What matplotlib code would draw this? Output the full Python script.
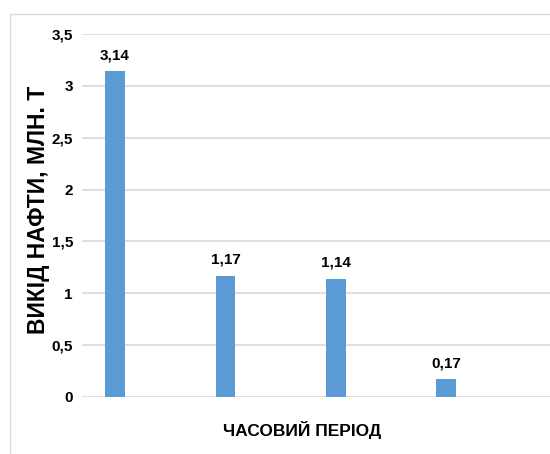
import matplotlib

matplotlib.use("Agg")
import matplotlib.pyplot as plt
from matplotlib.lines import Line2D

# дані
periods = ["1", "2", "3", "4"]
values = [3.14, 1.17, 1.14, 0.17]
value_labels = ["3,14", "1,17", "1,14", "0,17"]
y_ticks = [0, 0.5, 1, 1.5, 2, 2.5, 3, 3.5]
y_tick_labels = ["0", "0,5", "1", "1,5", "2", "2,5", "3", "3,5"]

plt.rcParams["font.family"] = ["Liberation Sans", "DejaVu Sans"]

W, H = 550, 454
fig = plt.figure(figsize=(W / 100, H / 100), dpi=100)
ax = fig.add_axes([82 / W, 57 / H, 1 - 82 / W, 363 / H])

x = list(range(len(values)))
bar_color = "#5B9BD5"
ax.bar(x, values, width=0.18, color=bar_color, zorder=3)
for xi, v, lab in zip(x, values, value_labels):
    ax.annotate(lab, (xi, v), xytext=(0, 11.5), textcoords="offset points",
                ha="center", va="center", fontsize=11, fontweight="bold")

ax.set_xlim(-0.30, 3.94)
ax.set_ylim(0, 3.5)
ax.set_yticks(y_ticks)
ax.set_yticklabels(y_tick_labels, fontsize=11, fontweight="bold")
ax.set_xticks([])
ax.tick_params(axis="y", length=0, pad=6.5)
ax.grid(axis="y", color="#dcdcdc", linewidth=1.3, zorder=0)
for s in ax.spines.values():
    s.set_visible(False)

# рамка діаграми
fig.add_artist(Line2D([10 / W, 10 / W], [0, 1 - 14 / H], color="#d9d9d9", lw=1.0))
fig.add_artist(Line2D([10 / W, 1], [1 - 14 / H, 1 - 14 / H], color="#d9d9d9", lw=1.0))

fig.text(39 / W, 1 - 210 / H, "ВИКІД НАФТИ, МЛН. Т", rotation=90,
         ha="center", va="center", fontsize=16.5, fontweight="bold")
fig.text(302 / W, 1 - 430 / H, "ЧАСОВИЙ ПЕРІОД",
         ha="center", va="center", fontsize=12.5, fontweight="bold")

fig.savefig("out.png", dpi=100)
